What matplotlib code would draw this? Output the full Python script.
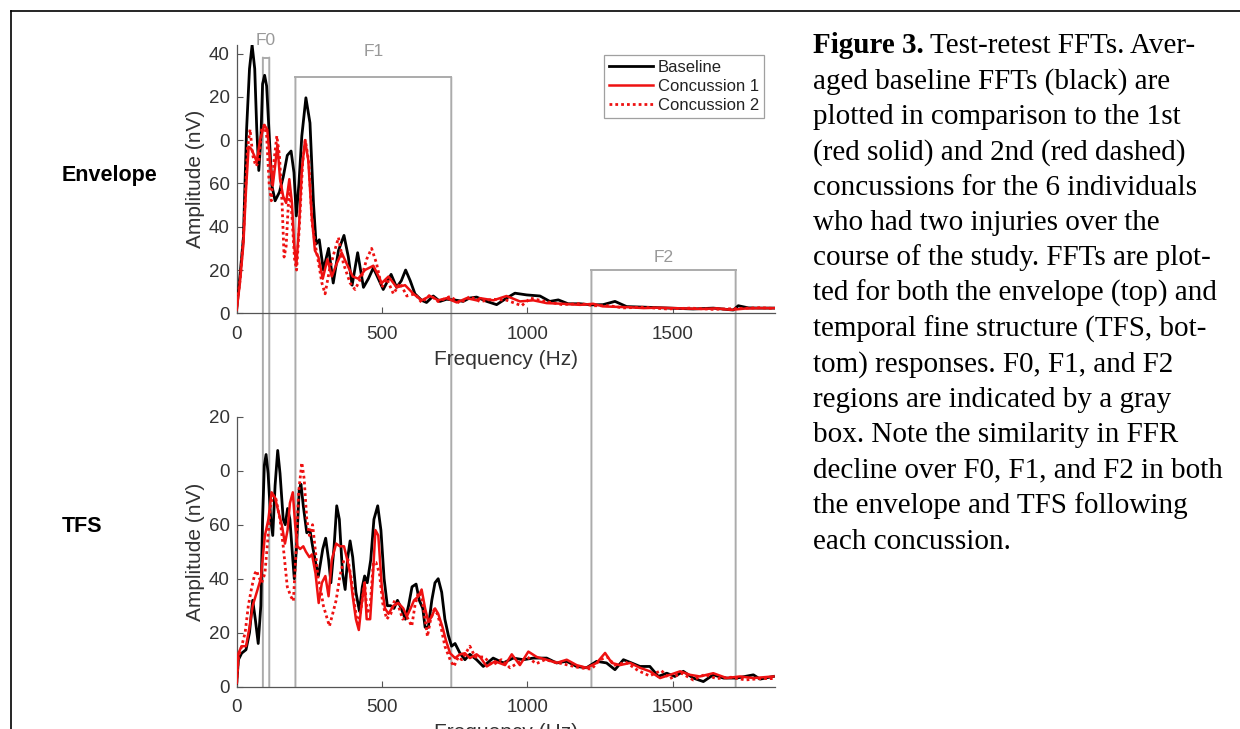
import matplotlib.pyplot as plt
from matplotlib.patches import ConnectionPatch
from matplotlib.lines import Line2D

#---DATA---#
# envelope panel
env_base_f = [0, 11, 23, 34, 44, 53, 62, 69, 76, 83, 89, 96, 103, 112, 121, 132, 147, 160, 174, 187,
              197, 205, 214, 224, 238, 252, 264, 273, 284, 298, 316, 332, 350, 369, 384, 397, 416, 436,
              453, 470, 487, 504, 531, 550, 566, 581, 597, 613, 636, 653, 676, 699, 722, 757, 779, 800,
              825, 860, 894, 928, 957, 997, 1043, 1077, 1106, 1140, 1181, 1221, 1260, 1301, 1341, 1410,
              1490, 1570, 1639, 1708, 1725, 1760, 1800, 1850]
env_base_a = [2, 17, 35, 85, 113, 124, 113, 85, 66, 80, 106, 110, 105, 82, 59, 52, 56, 63, 73, 75,
              65, 45, 60, 82, 99.6, 88, 51, 32, 34, 20, 30, 14, 29, 36, 26, 13, 28, 12,
              16, 21, 16, 11, 18, 12, 15, 20, 15, 9, 6, 5, 8, 5.5, 6.5, 6, 5.5, 7,
              7.5, 5.5, 4, 7, 9.3, 8.5, 8, 5.5, 6.2, 4.4, 4.4, 3.9, 4, 5.5, 3.1, 2.8,
              2.4, 2, 2.4, 1.5, 3.5, 2.5, 2.4, 2.4]

env_c1_f = [0, 11, 23, 32, 41, 50, 60, 69, 80, 95, 105, 115, 124, 132, 140, 149, 160, 170, 181, 190,
            198, 205, 214, 224, 235, 246, 258, 269, 281, 296, 312, 327, 344, 361, 378, 399, 418, 441,
            470, 499, 522, 550, 579, 608, 636, 665, 693, 722, 757, 791, 825, 837, 883, 928, 974, 1020,
            1066, 1123, 1181, 1226, 1260, 1300, 1350, 1400, 1450, 1500, 1550, 1600, 1650, 1700, 1750,
            1800, 1850]
env_c1_a = [1.6, 14, 32, 57, 77, 76, 73, 70, 80, 87, 85, 70, 59, 68, 78, 62, 54, 51, 62, 51,
            31, 22, 39, 66, 80, 71, 45, 29, 26, 16, 25, 17, 23, 28, 23, 17, 16, 20,
            22, 14, 17, 12, 13, 9, 6, 8, 6, 7, 5, 7, 6, 7, 6, 8, 5.5, 6,
            4.7, 4.4, 3.9, 4.4, 3.2, 3, 2.8, 2.4, 2.6, 2.4, 2.2, 2, 2.3, 1.6, 2.2,
            2.4, 2.4]

env_c2_f = [0, 12, 23, 37, 46, 55, 66, 76, 86, 95, 103, 112, 119, 128, 138, 147, 156, 163, 170, 181,
            190, 199, 206, 215, 227, 236, 248, 259, 271, 282, 293, 304, 319, 335, 350, 367, 390, 407,
            430, 447, 464, 481, 499, 516, 539, 562, 585, 613, 636, 665, 693, 734, 768, 802, 837, 880,
            930, 980, 1010, 1060, 1120, 1180, 1230, 1280, 1330, 1400, 1480, 1560, 1640, 1720, 1800, 1850]
env_c2_a = [3, 16, 35, 76, 85, 73, 68, 70, 85, 87, 82, 59, 52, 70, 82, 73, 51, 26, 31, 59,
            45, 25, 20, 39, 70, 80, 70, 42, 31, 23, 14, 9, 20, 28, 35, 23, 14, 11,
            17, 25, 30, 23, 12, 16, 9, 14, 8, 9, 5, 8.5, 5.4, 7.8, 4.7, 7.8, 5.4, 6.5,
            6, 3.5, 7, 5.5, 4, 4.5, 3.5, 3.5, 2.5, 2.8, 2, 2.4, 1.8, 2.2, 2.6, 2.2]

# TFS panel
tfs_base_f = [0, 6, 17, 32, 44, 55, 64, 74, 83, 89, 95, 101, 108, 117, 124, 132, 141, 149, 160, 167,
              175, 183, 191, 198, 206, 215, 221, 229, 241, 252, 261, 273, 281, 296, 306, 316, 324, 335,
              344, 353, 364, 373, 382, 390, 399, 410, 422, 432, 440, 449, 461, 472, 485, 496, 507, 518,
              530, 541, 553, 566, 580, 591, 603, 617, 628, 640, 648, 659, 671, 682, 693, 705, 716, 728,
              739, 751, 768, 785, 802, 825, 848, 882, 917, 951, 986, 1020, 1066, 1100, 1135, 1169, 1203,
              1238, 1272, 1301, 1330, 1358, 1387, 1421, 1450, 1479, 1507, 1536, 1570, 1605, 1639, 1674,
              1720, 1777, 1800, 1846]
tfs_base_a = [1.3, 10, 12.4, 13.7, 20, 32, 25, 16, 30, 62, 82, 86, 79, 62, 56, 74.5, 87.5, 79, 62, 60,
              66, 62, 50, 40, 52, 73, 75, 67, 57, 58, 52, 45, 41, 51, 55, 47, 38.5, 52,
              67, 62, 42, 36, 48, 54, 48, 35, 28, 37, 41, 38.5, 47, 62, 67, 58, 40, 30,
              30, 29, 32, 29, 25, 30, 37, 38, 32, 29, 22, 22, 32, 38.5, 40, 35, 25, 19,
              15, 16, 12.4, 10, 12, 10, 7.5, 10.6, 8.8, 10.6, 10, 10.6, 10.6, 8.8, 9.4, 7.5, 7,
              9.4, 8.8, 6.3, 10, 8.8, 7.5, 7.5, 3.8, 5, 3.8, 5.7, 3.2, 1.9, 4.4, 3.2,
              3.2, 4.4, 2.8, 3.8]

tfs_c1_f = [0, 6, 17, 32, 44, 55, 69, 83, 97, 109, 120, 132, 143, 155, 166, 175, 183, 193, 201, 209,
            218, 229, 238, 250, 259, 271, 282, 293, 305, 316, 327, 342, 355, 369, 378, 390, 399, 410,
            420, 429, 440, 447, 459, 468, 477, 487, 499, 510, 522, 539, 556, 573, 585, 598, 610, 625,
            636, 648, 659, 671, 682, 693, 708, 720, 734, 751, 768, 785, 802, 825, 837, 860, 888, 923,
            946, 974, 1003, 1032, 1066, 1100, 1135, 1169, 1203, 1238, 1267, 1290, 1318, 1353, 1387,
            1421, 1456, 1490, 1525, 1559, 1593, 1639, 1685, 1731, 1777, 1846]
tfs_c1_a = [1.3, 12.4, 15, 15, 22, 30, 35, 40, 56, 62, 72, 70, 65, 60, 53, 58, 68, 72, 60, 52,
            51, 52, 50, 48, 49, 42, 31, 38.5, 41, 33.5, 47, 53, 52, 52, 48, 42, 33.5, 25,
            21, 30, 38.5, 25, 25, 40, 58, 56, 37, 29, 27, 30, 31, 29, 26, 29, 32, 33.5,
            36, 29, 24, 26, 29, 27, 22, 17, 12.4, 10.6, 12, 12.4, 10.6, 12, 11, 7.5, 9.4, 8,
            12, 8, 13, 11, 10, 8.8, 10, 8, 7, 8.8, 12.5, 8.8, 8, 8.8, 7,
            5.7, 3.2, 4.4, 5.7, 4.4, 3.8, 5, 3.2, 3.8, 3.2, 3.8]

tfs_c2_f = [0, 6, 17, 29, 40, 52, 63, 69, 74, 86, 97, 105, 115, 124, 135, 149, 160, 174, 186, 195,
            204, 213, 224, 232, 241, 250, 261, 271, 280, 289, 298, 309, 319, 330, 342, 355, 369, 383,
            394, 406, 417, 429, 440, 449, 459, 470, 479, 491, 502, 516, 530, 543, 556, 571, 585, 602,
            613, 625, 636, 648, 656, 667, 679, 690, 702, 716, 734, 747, 762, 774, 802, 820, 850, 880,
            910, 940, 970, 1000, 1030, 1060, 1100, 1140, 1180, 1220, 1250, 1275, 1300, 1340, 1380,
            1420, 1460, 1490, 1530, 1570, 1610, 1650, 1700, 1750, 1800, 1850]
tfs_c2_a = [1.3, 11, 15, 20, 30, 37, 42, 43, 41, 38.5, 42, 52, 66, 71, 69.5, 62, 52, 37, 33.5, 31.7,
            50, 72, 83, 77, 62, 56, 60, 50, 40, 36, 30, 26, 22.4, 27, 32, 41, 47, 47,
            40, 30, 22.4, 30, 38.5, 27, 30, 46, 46, 42, 31, 25, 27, 32, 30, 25, 26, 22.4,
            30, 35, 33.5, 25, 18.6, 25, 28.6, 27, 22.4, 15, 10, 7.5, 11, 10, 15, 11, 11, 8,
            10, 7, 9, 11, 8.5, 10, 9, 8, 7, 6.5, 10, 11, 8, 9, 6,
            4, 6, 3, 5, 2.5, 4.5, 3, 3.5, 2.5, 3, 3]

labels = ['Baseline', 'Concussion 1', 'Concussion 2']
env_yticks = [0, 20, 40, 60, 80, 100, 120]
env_yticklabels = ['0', '20', '40', '60', '0', '20', '40']
tfs_yticks = [0, 20, 40, 60, 80, 100]
tfs_yticklabels = ['0', '20', '40', '60', '0', '20']
xticks = [0, 500, 1000, 1500]

# formant regions: name, start Hz, end Hz, box top (envelope amplitude units), label y
regions = ['F0', 'F1', 'F2']
reg_start = [90, 202, 1220]
reg_end = [112, 738, 1716]
reg_top = [118.2, 109.1, 20.0]
reg_label_y = [126, 121, 26]

caption = ["Test-retest FFTs. Aver-",
           "aged baseline FFTs (black) are",
           "plotted in comparison to the 1st",
           "(red solid) and 2nd (red dashed)",
           "concussions for the 6 individuals",
           "who had two injuries over the",
           "course of the study. FFTs are plot-",
           "ted for both the envelope (top) and",
           "temporal fine structure (TFS, bot-",
           "tom) responses. F0, F1, and F2",
           "regions are indicated by a gray",
           "box. Note the similarity in FFR",
           "decline over F0, F1, and F2 in both",
           "the envelope and TFS following",
           "each concussion."]

#---FIGURE---#
W, H = 1240, 729
fig = plt.figure(figsize=(W / 100, H / 100), dpi=100)
plt.rcParams['font.family'] = ['Liberation Sans', 'DejaVu Sans']

gray = '#ababab'
axcol = '#555555'
tickcol = '#333333'
red = '#ee1111'

# bottom axes first so the region lines sit under the top panel curves
ax_bot = fig.add_axes([236.7 / W, 1 - 686.7 / H, 537.9 / W, 270 / H])
ax_top = fig.add_axes([236.7 / W, 1 - 313.3 / H, 537.9 / W, 268.3 / H])

panels = [(ax_top, [env_base_f, env_c1_f, env_c2_f], [env_base_a, env_c1_a, env_c2_a], 124, env_yticks, env_yticklabels),
          (ax_bot, [tfs_base_f, tfs_c1_f, tfs_c2_f], [tfs_base_a, tfs_c1_a, tfs_c2_a], 100, tfs_yticks, tfs_yticklabels)]

for ax, fs, amps, ytop, yt, ytl in panels:
    ax.set_facecolor('none')
    ax.plot(fs[0], amps[0], color='black', lw=2.0, zorder=3, label=labels[0], solid_joinstyle='round')
    ax.plot(fs[1], amps[1], color=red, lw=1.8, zorder=4, label=labels[1], solid_joinstyle='round')
    ax.plot(fs[2], amps[2], color=red, lw=2.0, ls=(0, (1, 1.1)), zorder=5, label=labels[2])
    ax.set_xlim(0, 1850)
    ax.set_ylim(0, ytop)
    ax.set_xticks(xticks)
    ax.set_yticks(yt)
    ax.set_yticklabels(ytl)
    for s in ['top', 'right']:
        ax.spines[s].set_visible(False)
    for s in ['left', 'bottom']:
        ax.spines[s].set_color(axcol)
        ax.spines[s].set_linewidth(0.9)
    ax.tick_params(direction='in', length=4, width=0.8, color=axcol, labelcolor=tickcol, labelsize=13.5)
    ax.tick_params(axis='x', pad=9)
    ax.tick_params(axis='y', pad=5)
    ax.set_xlabel('Frequency (Hz)', fontsize=15, color=tickcol, labelpad=5)
    ax.set_ylabel('Amplitude (nV)', fontsize=15, color=tickcol, labelpad=3)

#---REGION BOXES---#
for name, x0, x1, top, ly in zip(regions, reg_start, reg_end, reg_top, reg_label_y):
    ax_top.plot([x0, x1], [top, top], color=gray, lw=1.4, zorder=1, clip_on=False)
    for x in [x0, x1]:
        con = ConnectionPatch(xyA=(x, top), coordsA='data', axesA=ax_top,
                              xyB=(x, 0), coordsB='data', axesB=ax_bot,
                              color=gray, lw=1.4, zorder=1)
        ax_bot.add_artist(con)
        con.set_clip_on(False)
    ax_top.text((x0 + x1) / 2, ly, name, ha='center', va='center', fontsize=12.5, color='#999999')

leg = ax_top.legend(loc='upper right', bbox_to_anchor=(0.98, 0.963), borderaxespad=0,
                    fontsize=12, frameon=True, fancybox=False, handlelength=2.6,
                    handletextpad=0.3, labelspacing=0.25, borderpad=0.3)
leg.get_frame().set_edgecolor('#888888')
leg.get_frame().set_linewidth(0.9)
for t in leg.get_texts():
    t.set_color('#222222')

#---ROW LABELS---#
fig.text(62 / W, 1 - 176 / H, 'Envelope', fontsize=15.5, fontweight='bold', ha='left', va='center')
fig.text(62 / W, 1 - 526 / H, 'TFS', fontsize=15.5, fontweight='bold', ha='left', va='center')

#---CAPTION---#
serif = ['Liberation Serif', 'DejaVu Serif']
x0 = 813
fig.canvas.draw()
rend = fig.canvas.get_renderer()
for i, line in enumerate(caption):
    yb = 1 - (53 + i * 35.4) / H
    if i == 0:
        t = fig.text(x0 / W, yb, 'Figure 3.', family=serif, fontsize=21, fontweight='bold', va='baseline')
        wpx = t.get_window_extent(rend).width
        fig.text((x0 + wpx + 6) / W, yb, line, family=serif, fontsize=21, va='baseline')
    else:
        fig.text(x0 / W, yb, line, family=serif, fontsize=21, va='baseline')

#---FRAME---#
fig.add_artist(Line2D([11 / W, 1], [1 - 11 / H, 1 - 11 / H], color='black', lw=1.2))
fig.add_artist(Line2D([11 / W, 11 / W], [0, 1 - 11 / H], color='black', lw=1.2))

fig.savefig('out.png', dpi=100)
